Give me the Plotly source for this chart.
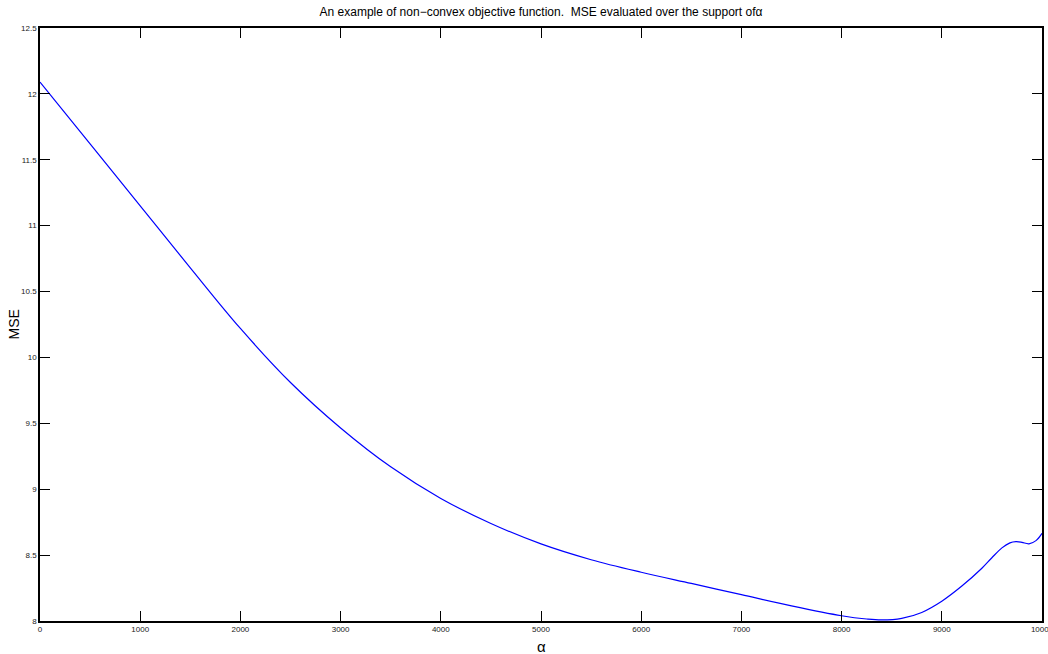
import plotly.graph_objects as go

# Data
alpha = [0, 500, 1000, 1500, 2000, 2500, 3000, 3500, 4000, 4500, 5000, 5500, 6000,
         6500, 7000, 7500, 8000, 8250, 8400, 8600, 8800, 9000, 9200, 9400, 9500, 9600,
         9680, 9740, 9800, 9870, 9940, 10000]
mse = [12.09, 11.62, 11.15, 10.68, 10.22, 9.81, 9.465, 9.17, 8.93, 8.74, 8.585, 8.465, 8.37,
       8.285, 8.20, 8.115, 8.04, 8.015, 8.008, 8.02, 8.065, 8.15, 8.265, 8.40, 8.48, 8.555,
       8.593, 8.602, 8.597, 8.586, 8.61, 8.665]

x_ticks = [0, 1000, 2000, 3000, 4000, 5000, 6000, 7000, 8000, 9000, 10000]
y_ticks = [8, 8.5, 9, 9.5, 10, 10.5, 11, 11.5, 12, 12.5]
y_ticklabels = ["8", "8.5", "9", "9.5", "10", "10.5", "11", "11.5", "12", "12.5"]

title_text = "An example of non\u2212convex objective function.  MSE evaluated over the support of\u03b1"

fig = go.Figure()
fig.add_trace(go.Scatter(x=alpha, y=mse, mode="lines",
                         line=dict(color="#0000ff", width=1.2, shape="spline", smoothing=1.0),
                         showlegend=False, hoverinfo="x+y"))

axis_common = dict(
    showgrid=False, zeroline=False, showline=True, linecolor="black", linewidth=1.5,
    mirror="ticks", ticks="inside", ticklen=10, tickwidth=1, tickcolor="black",
    tickfont=dict(family="Liberation Sans, Arial, sans-serif", size=8, color="#222222"),
)

fig.update_layout(
    width=1048, height=654,
    margin=dict(l=40, r=6, t=28, b=33, autoexpand=False),
    paper_bgcolor="white", plot_bgcolor="white",
    font=dict(family="Liberation Sans, Arial, sans-serif", color="black"),
    title=dict(text=title_text, x=0.5, xref="paper", y=1 - 12 / 654, yanchor="middle",
               font=dict(size=12, color="black")),
    xaxis=dict(range=[0, 10000], tickvals=x_ticks, ticktext=[str(v) for v in x_ticks],
               ticklabeloverflow="allow", automargin=False, **axis_common),
    yaxis=dict(range=[8, 12.5], tickvals=y_ticks, ticktext=y_ticklabels,
               ticklabeloverflow="allow", automargin=False, **axis_common),
    annotations=[
        dict(text="\u03b1", xref="paper", yref="paper", x=0.5, y=-26 / 593, yanchor="middle",
             showarrow=False, font=dict(size=15, color="black")),
        dict(text="MSE", xref="paper", yref="paper", x=-27 / 1002, y=0.5, xanchor="center",
             textangle=-90, showarrow=False, font=dict(size=14, color="black")),
    ],
)

fig.write_html("out.html")
